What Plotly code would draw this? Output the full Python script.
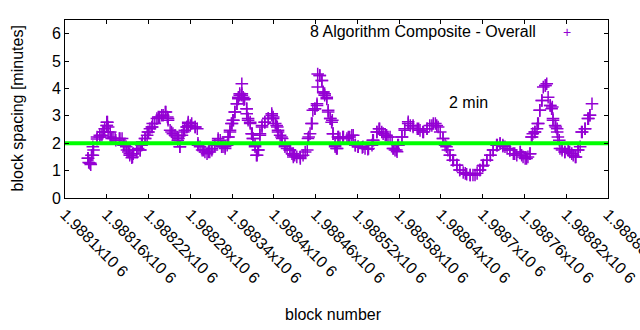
import plotly.graph_objects as go

# main reading of the series (block number, minutes)
block_a = [1988133, 1988134, 1988136, 1988137, 1988140, 1988140, 1988146, 1988150, 1988153, 1988155,
           1988157, 1988160, 1988160, 1988162, 1988165, 1988165, 1988169, 1988173, 1988178, 1988182,
           1988186, 1988188, 1988191, 1988193, 1988196, 1988198, 1988203, 1988205, 1988208, 1988211,
           1988215, 1988218, 1988219, 1988222, 1988225, 1988226, 1988232, 1988236, 1988239, 1988244,
           1988247, 1988248, 1988251, 1988255, 1988261, 1988262, 1988265, 1988268, 1988272, 1988275,
           1988277, 1988277, 1988282, 1988287, 1988290, 1988291, 1988294, 1988297, 1988301, 1988304,
           1988308, 1988311, 1988315, 1988320, 1988323, 1988327, 1988330, 1988333, 1988334, 1988337,
           1988340, 1988341, 1988344, 1988347, 1988349, 1988351, 1988354, 1988356, 1988354, 1988357,
           1988361, 1988361, 1988363, 1988366, 1988369, 1988370, 1988373, 1988376, 1988377, 1988380,
           1988383, 1988387, 1988392, 1988397, 1988399, 1988402, 1988405, 1988406, 1988409, 1988412,
           1988416, 1988419, 1988423, 1988426, 1988428, 1988428, 1988433, 1988438, 1988442, 1988448,
           1988449, 1988452, 1988455, 1988456, 1988459, 1988462, 1988463, 1988463, 1988466, 1988469,
           1988471, 1988473, 1988476, 1988478, 1988481, 1988484, 1988485, 1988488, 1988491, 1988492,
           1988495, 1988499, 1988505, 1988509, 1988514, 1988517, 1988521, 1988527, 1988531, 1988535,
           1988541, 1988542, 1988548, 1988551, 1988555, 1988560, 1988564, 1988570, 1988571, 1988577,
           1988574, 1988578, 1988584, 1988588, 1988593, 1988596, 1988600, 1988606, 1988610, 1988614,
           1988620, 1988624, 1988629, 1988634, 1988639, 1988643, 1988646, 1988650, 1988653, 1988657,
           1988663, 1988667, 1988672, 1988677, 1988682, 1988686, 1988692, 1988696, 1988700, 1988706,
           1988711, 1988715, 1988721, 1988725, 1988729, 1988729, 1988735, 1988739, 1988744, 1988749,
           1988754, 1988756, 1988761, 1988765, 1988768, 1988771, 1988772, 1988775, 1988778, 1988779,
           1988782, 1988785, 1988787, 1988790, 1988792, 1988794, 1988797, 1988800, 1988801, 1988804,
           1988807, 1988808, 1988811, 1988814, 1988818, 1988823, 1988825, 1988830, 1988834, 1988837,
           1988840, 1988843, 1988847, 1988851, 1988854, 1988857]
spacing_a = [1.45, 1.30, 1.27, 1.22, 1.56, 1.87, 2.15, 2.23, 2.29, 2.41,
             2.53, 2.65, 2.77, 2.59, 2.41, 2.23, 2.17, 2.11, 2.17, 2.17,
             1.93, 1.87, 1.68, 1.56, 1.47, 1.62, 1.75, 1.81, 1.75, 2.05,
             2.17, 2.29, 2.41, 2.53, 2.59, 2.72, 2.90, 2.96, 3.02, 3.14,
             2.96, 2.84, 2.47, 2.35, 2.23, 2.11, 1.87, 2.29, 2.47, 2.59,
             2.72, 2.65, 2.72, 2.59, 2.53, 2.00, 1.87, 1.75, 1.68, 1.62,
             1.68, 1.81, 1.93, 2.17, 2.11, 1.87, 1.81, 1.93, 2.23, 2.41,
             2.72, 2.84, 3.14, 3.44, 3.62, 3.75, 3.81, 3.68, 4.17, 3.59,
             3.26, 3.08, 2.90, 2.77, 2.35, 2.17, 1.93, 1.56, 1.75, 2.35,
             2.65, 2.77, 2.90, 3.08, 2.96, 2.72, 2.59, 2.47, 2.29, 2.17,
             1.93, 1.81, 1.75, 1.62, 1.50, 1.62, 1.50, 1.44, 1.56, 1.75,
             2.17, 2.35, 2.72, 3.20, 3.26, 3.44, 4.05, 4.53, 4.47, 4.29,
             3.87, 3.81, 3.68, 3.20, 2.90, 2.84, 2.35, 1.93, 1.81, 2.23,
             2.17, 2.23, 2.17, 2.23, 2.29, 1.93, 1.87, 1.85, 1.81, 1.78,
             1.93, 2.11, 2.41, 2.53, 2.41, 2.29, 2.23, 1.99, 1.81, 1.69,
             1.75, 1.93, 2.23, 2.53, 2.78, 2.65, 2.59, 2.53, 2.47, 2.41,
             2.53, 2.65, 2.72, 2.65, 2.41, 2.17, 1.93, 1.75, 1.56, 1.38,
             1.20, 1.02, 0.93, 0.87, 0.84, 0.84, 0.90, 1.02, 1.17, 1.38,
             1.56, 1.75, 1.93, 1.99, 1.93, 1.89, 1.81, 1.75, 1.62, 1.56,
             1.68, 1.56, 1.44, 1.50, 1.62, 2.23, 2.35, 2.41, 2.53, 2.72,
             3.20, 3.56, 4.05, 4.11, 4.17, 3.68, 3.38, 3.32, 2.90, 2.65,
             2.53, 2.23, 1.81, 1.75, 1.68, 1.75, 1.68, 1.56, 1.50, 1.75,
             1.87, 2.41, 2.53, 2.90, 3.02, 3.44]

# second reading of the same series (fills the dense clusters)
block_b = [1988133, 1988136, 1988138, 1988141, 1988146, 1988150, 1988155, 1988160, 1988161, 1988162,
           1988167, 1988172, 1988179, 1988184, 1988189, 1988193, 1988197, 1988203, 1988208, 1988210,
           1988215, 1988220, 1988225, 1988229, 1988234, 1988241, 1988245, 1988248, 1988253, 1988258,
           1988263, 1988265, 1988270, 1988275, 1988277, 1988280, 1988287, 1988291, 1988299, 1988306,
           1988311, 1988315, 1988320, 1988325, 1988330, 1988335, 1988337, 1988339, 1988342, 1988344,
           1988347, 1988349, 1988351, 1988354, 1988358, 1988361, 1988363, 1988366, 1988368, 1988370,
           1988373, 1988375, 1988378, 1988380, 1988383, 1988387, 1988392, 1988397, 1988399, 1988404,
           1988406, 1988411, 1988416, 1988423, 1988428, 1988430, 1988438, 1988445, 1988450, 1988454,
           1988459, 1988462, 1988466, 1988469, 1988471, 1988473, 1988476, 1988478, 1988481, 1988483,
           1988485, 1988488, 1988490, 1988493, 1988500, 1988507, 1988512, 1988517, 1988521, 1988528,
           1988536, 1988543, 1988548, 1988552, 1988557, 1988562, 1988567, 1988572, 1988576, 1988579,
           1988584, 1988588, 1988593, 1988600, 1988608, 1988615, 1988620, 1988627, 1988632, 1988636,
           1988643, 1988648, 1988653, 1988658, 1988663, 1988667, 1988675, 1988682, 1988689, 1988696,
           1988701, 1988706, 1988711, 1988715, 1988720, 1988725, 1988732, 1988739, 1988746, 1988754,
           1988758, 1988763, 1988768, 1988770, 1988775, 1988780, 1988782, 1988785, 1988790, 1988797,
           1988799, 1988801, 1988805, 1988807, 1988810, 1988814, 1988818, 1988823, 1988828, 1988833,
           1988837, 1988842, 1988847, 1988852, 1988854]
spacing_b = [1.45, 1.27, 1.56, 1.75, 2.23, 2.29, 2.41, 2.65, 2.77, 2.41,
             2.17, 2.17, 2.17, 1.93, 1.75, 1.62, 1.50, 1.75, 1.75, 1.93,
             2.17, 2.41, 2.59, 2.72, 2.96, 3.02, 3.14, 2.90, 2.41, 2.29,
             2.17, 1.87, 2.41, 2.59, 2.77, 2.65, 2.59, 1.93, 1.75, 1.68,
             1.75, 1.93, 2.11, 1.87, 1.87, 2.23, 2.47, 2.72, 2.84, 3.14,
             3.44, 3.68, 3.81, 3.75, 3.62, 3.26, 2.84, 2.72, 2.35, 2.17,
             1.87, 1.56, 1.75, 2.29, 2.59, 2.77, 2.90, 3.02, 2.90, 2.65,
             2.41, 2.23, 1.87, 1.75, 1.56, 1.56, 1.50, 1.68, 2.23, 2.72,
             3.26, 3.38, 4.47, 4.29, 3.87, 3.75, 3.62, 3.14, 2.90, 2.77,
             2.35, 1.87, 1.81, 2.23, 2.23, 2.23, 2.29, 1.93, 1.87, 1.87,
             1.81, 2.11, 2.41, 2.53, 2.35, 2.29, 2.23, 1.81, 1.75, 1.93,
             2.23, 2.47, 2.72, 2.65, 2.53, 2.41, 2.53, 2.65, 2.72, 2.59,
             2.17, 1.87, 1.56, 1.38, 1.20, 1.02, 0.90, 0.84, 0.84, 1.02,
             1.20, 1.38, 1.56, 1.75, 1.93, 1.99, 1.87, 1.75, 1.62, 1.68,
             1.50, 1.44, 1.62, 2.23, 2.41, 2.72, 3.20, 3.56, 4.11, 3.38,
             3.26, 2.84, 2.59, 2.41, 2.11, 1.81, 1.68, 1.75, 1.62, 1.50,
             1.75, 2.41, 2.53, 2.90, 3.02]

target_x = [1988100, 1988880]
target_y = [2, 2]

tick_vals = [1988100, 1988160, 1988220, 1988280, 1988340, 1988400, 1988460,
             1988520, 1988580, 1988640, 1988700, 1988760, 1988820, 1988880]
tick_text = ["1.9881x10 6", "1.98816x10 6", "1.98822x10 6", "1.98828x10 6", "1.98834x10 6",
             "1.9884x10 6", "1.98846x10 6", "1.98852x10 6", "1.98858x10 6", "1.98864x10 6",
             "1.9887x10 6", "1.98876x10 6", "1.98882x10 6", "1.98888x10 6"]

PURPLE = "#9400d3"
FONT = "Liberation Sans"

fig = go.Figure()
fig.add_trace(go.Scatter(
    x=block_a + block_b, y=spacing_a + spacing_b, mode="markers",
    marker=dict(symbol="cross-thin", size=9, line=dict(color=PURPLE, width=1.5), color=PURPLE),
    showlegend=False, hoverinfo="skip"))
fig.add_trace(go.Scatter(
    x=target_x, y=target_y, mode="lines",
    line=dict(color="#00ff00", width=4),
    showlegend=False, hoverinfo="skip"))

fig.update_layout(
    width=640, height=330,
    margin=dict(l=65, r=32, t=20, b=132, autoexpand=False),
    paper_bgcolor="white", plot_bgcolor="white",
    font=dict(family=FONT, size=16, color="black"),
    xaxis=dict(range=[1988100, 1988880], tickmode="array", tickvals=tick_vals, ticktext=tick_text,
               tickangle=45, ticks="inside", ticklen=4, tickcolor="black", mirror="ticks",
               showline=True, linecolor="black", linewidth=1, showgrid=False, zeroline=False,
               ticklabeloverflow="allow", automargin=False,
               tickfont=dict(family=FONT, size=16)),
    yaxis=dict(range=[0, 6.5], tickmode="array", tickvals=[0, 1, 2, 3, 4, 5, 6],
               ticks="inside", ticklen=4, tickcolor="black", mirror="ticks",
               showline=True, linecolor="black", linewidth=1, showgrid=False, zeroline=False,
               automargin=False,
               tickfont=dict(family=FONT, size=16)),
    annotations=[
        dict(text="block spacing [minutes]", xref="paper", yref="paper", x=-0.0884, y=0.503,
             textangle=-90, showarrow=False, font=dict(size=16), xanchor="center", yanchor="middle"),
        dict(text="block number", xref="paper", yref="paper", x=0.4936, y=-0.657,
             showarrow=False, font=dict(size=16), xanchor="center", yanchor="middle"),
        dict(text="8 Algorithm Composite - Overall", xref="paper", yref="paper", x=0.8711, y=0.9326,
             showarrow=False, font=dict(size=16), xanchor="right", yanchor="middle"),
        dict(text="+", xref="paper", yref="paper", x=0.9245, y=0.9326,
             showarrow=False, font=dict(size=14, color=PURPLE), xanchor="center", yanchor="middle"),
        dict(text="2 min", xref="x", yref="y", x=1988649, y=3.5,
             showarrow=False, font=dict(size=16), xanchor="left", yanchor="middle"),
    ],
)

fig.write_html("out.html")
